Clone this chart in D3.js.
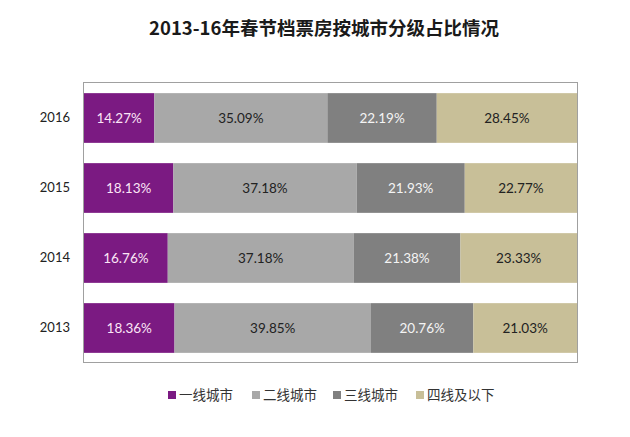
<!DOCTYPE html>
<html>
<head>
<meta charset="utf-8">
<script src="https://cdn.jsdelivr.net/npm/d3@7"></script>
<style>
  body { margin: 0; background: #fff; }
  svg { display: block; font-family: "Lato", "Noto Sans CJK SC", sans-serif; }
</style>
</head>
<body>
<div id="chart"></div>
<script>
// data
var years = ['2016', '2015', '2014', '2013'];
var tiers = ['一线城市', '二线城市', '三线城市', '四线及以下'];
var tier1 = [14.27, 18.13, 16.76, 18.36];
var tier2 = [35.09, 37.18, 37.18, 39.85];
var tier3 = [22.19, 21.93, 21.38, 20.76];
var tier4 = [28.45, 22.77, 23.33, 21.03];
var title = '2013-16年春节档票房按城市分级占比情况';

var colors = ['#7b1a82', '#a8a8a8', '#808080', '#c8bf98'];
var labelColors = ['#fbe6f6', '#222', '#f4f4f4', '#222'];

var width = 630;
var height = 437;
var plot = {left: 84, right: 578, top: 83, bottom: 363};

var rows = years.map(function (y, i) {
    return {year: y, 0: tier1[i], 1: tier2[i], 2: tier3[i], 3: tier4[i]};
});

var stack = d3.stack()
    .keys([0, 1, 2, 3])
    .offset(d3.stackOffsetExpand);
var series = stack(rows);

var svg = d3.select('#chart').append('svg')
    .attr('width', width)
    .attr('height', height);

var x = d3.scaleLinear()
    .domain([0, 1])
    .range([plot.left, plot.right - 1]);

var y = d3.scaleBand()
    .domain(years)
    .range([plot.top, plot.bottom])
    .paddingInner(0.29)
    .paddingOuter(0.145);

svg.append('text')
    .attr('x', 324)
    .attr('y', 35)
    .attr('text-anchor', 'middle')
    .style('font', 'bold 18.5px "Noto Sans CJK SC", sans-serif')
    .style('fill', '#1a1a1a')
    .text(title);

// plot border
svg.append('rect')
    .attr('x', plot.left - 0.5)
    .attr('y', plot.top - 0.5)
    .attr('width', plot.right - plot.left)
    .attr('height', plot.bottom - plot.top)
    .style('fill', 'none')
    .style('stroke', '#a0a0a0');

var groups = svg.selectAll('g.tier')
    .data(series)
    .enter()
    .append('g')
    .attr('class', 'tier')
    .style('fill', function (d, i) { return colors[i]; });

groups.selectAll('rect')
    .data(function (d) { return d; })
    .enter()
    .append('rect')
    .attr('x', function (d) { return x(d[0]); })
    .attr('y', function (d) { return y(d.data.year); })
    .attr('width', function (d) { return x(d[1]) - x(d[0]); })
    .attr('height', y.bandwidth());

groups.selectAll('text')
    .data(function (d, i) { return d.map(function (p) { return {p: p, k: i}; }); })
    .enter()
    .append('text')
    .attr('x', function (d) { return (x(d.p[0]) + x(d.p[1])) / 2; })
    .attr('y', function (d) { return y(d.p.data.year) + y.bandwidth() / 2; })
    .attr('dy', '0.36em')
    .attr('text-anchor', 'middle')
    .style('font-size', '13.5px')
    .style('fill', function (d) { return labelColors[d.k]; })
    .text(function (d) { return d.p.data[d.k].toFixed(2) + '%'; });

var yAxis = d3.axisLeft(y).tickSize(0).tickPadding(14);
svg.append('g')
    .attr('transform', 'translate(' + plot.left + ',0)')
    .call(yAxis)
    .call(function (g) { g.select('.domain').remove(); })
    .selectAll('text')
    .style('font-size', '13px')
    .style('font-family', '"Lato", sans-serif')
    .style('fill', '#222');

// legend
var legendX = [168, 252, 333, 416];
var legend = svg.selectAll('g.legend')
    .data(tiers)
    .enter()
    .append('g')
    .attr('class', 'legend')
    .attr('transform', function (d, i) { return 'translate(' + legendX[i] + ',395)'; });

legend.append('rect')
    .attr('x', 0)
    .attr('y', -4)
    .attr('width', 8)
    .attr('height', 8)
    .style('fill', function (d, i) { return colors[i]; });

legend.append('text')
    .attr('x', 11)
    .attr('dy', '0.36em')
    .style('font', '13.5px "Noto Sans CJK SC", sans-serif')
    .style('fill', '#333')
    .text(function (d) { return d; });
</script>
</body>
</html>
